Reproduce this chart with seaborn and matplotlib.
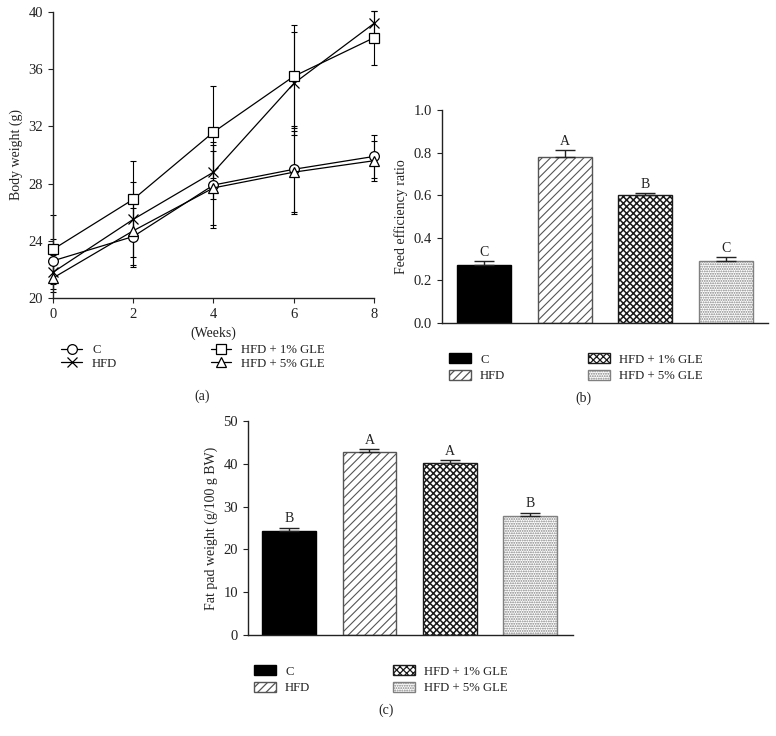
import matplotlib
matplotlib.use("Agg")
import matplotlib.pyplot as plt
import numpy as np
import pandas as pd
import seaborn as sns
from matplotlib.lines import Line2D
from matplotlib.patches import Patch

# ---- data -------------------------------------------------------------
groups = ["C", "HFD", "HFD + 1% GLE", "HFD + 5% GLE"]

weeks = [0, 2, 4, 6, 8]
bw_c = [22.6, 24.3, 27.9, 29.0, 29.9]
bw_hfd = [21.8, 25.5, 28.8, 35.0, 39.2]
bw_gle1 = [23.4, 26.9, 31.6, 35.5, 38.2]
bw_gle5 = [21.4, 24.7, 27.7, 28.8, 29.6]
bw_c_err = [1.5, 2.0, 3.0, 3.0, 1.5]
bw_hfd_err = [1.2, 2.6, 1.9, 3.6, 0.9]
bw_gle1_err = [2.4, 2.7, 3.2, 3.6, 1.9]
bw_gle5_err = [1.0, 2.5, 2.6, 2.9, 1.4]

fer_values = [0.27, 0.78, 0.60, 0.29]
fer_errors = [0.02, 0.03, 0.01, 0.02]
fer_letters = ["C", "A", "B", "C"]

fat_values = [24.4, 42.7, 40.3, 27.7]
fat_errors = [0.7, 0.8, 0.5, 0.9]
fat_letters = ["B", "A", "A", "B"]

# ---- style ------------------------------------------------------------
sns.set_style("ticks")
plt.rcParams["font.family"] = ["Liberation Serif", "DejaVu Serif"]
plt.rcParams.update({
    "font.size": 10,
    "axes.linewidth": 1.0,
    "xtick.direction": "out",
    "ytick.direction": "out",
    "xtick.major.size": 3.8,
    "ytick.major.size": 3.8,
    "xtick.labelsize": 10.5,
    "ytick.labelsize": 10.5,
    "xtick.color": "#222222",
    "ytick.color": "#222222",
    "text.color": "#222222",
    "axes.labelcolor": "#222222",
    "axes.edgecolor": "#222222",
    "hatch.linewidth": 0.9,
})

W, H = 776, 736
fig = plt.figure(figsize=(W / 100, H / 100), dpi=100)


def px_axes(left, top, right, bottom):
    return fig.add_axes([left / W, 1 - bottom / H, (right - left) / W, (bottom - top) / H])


# bar styles: facecolor, edgecolor (= hatch colour), hatch, hatch linewidth
bar_styles = [
    ("black", "black", "", 1.0),
    ("white", "#555555", "////", 0.8),
    ("white", "#1a1a1a", "xxxxx", 1.1),
    ("white", "#808080", ".......", 0.9),
]


def style_patch(patch, style):
    fc, ec, hatch, hlw = style
    patch.set_facecolor(fc)
    patch.set_edgecolor(ec)
    patch.set_hatch(hatch)
    patch.set_linewidth(1.0)
    if hasattr(patch, "set_hatch_linewidth"):
        patch.set_hatch_linewidth(hlw)


# ---- (a) body weight line plot -----------------------------------------
ax_a = px_axes(53, 12, 374, 298)
series = [
    ("C", bw_c, bw_c_err, "o"),
    ("HFD", bw_hfd, bw_hfd_err, "x"),
    ("HFD + 1% GLE", bw_gle1, bw_gle1_err, "s"),
    ("HFD + 5% GLE", bw_gle5, bw_gle5_err, "^"),
]
line_handles = []
for name, vals, errs, mk in series:
    ax_a.errorbar(weeks, vals, yerr=errs, fmt="none", ecolor="black",
                  elinewidth=0.8, capsize=2.5, capthick=0.8, clip_on=False, zorder=2)
    sns.lineplot(x=weeks, y=vals, ax=ax_a, color="black", linewidth=0.9,
                 marker=mk, markersize=7, markerfacecolor="white",
                 markeredgecolor="black", markeredgewidth=0.9, clip_on=False, zorder=3)
    line_handles.append(Line2D([], [], color="black", linewidth=0.9, marker=mk,
                               markersize=7, markerfacecolor="white",
                               markeredgecolor="black", markeredgewidth=0.9))
ax_a.set_xlim(0, 8)
ax_a.set_ylim(20, 40)
ax_a.set_xticks([0, 2, 4, 6, 8])
ax_a.set_yticks([20, 24, 28, 32, 36, 40])
ax_a.set_xlabel("(Weeks)", fontsize=10, labelpad=4)
ax_a.set_ylabel("Body weight (g)", fontsize=10, labelpad=4)
sns.despine(ax=ax_a)
fig.legend(line_handles, groups, ncol=2, loc="upper left",
           bbox_to_anchor=(55 / W, 1 - 338 / H), frameon=False, borderpad=0,
           handlelength=1.6, handletextpad=0.8, labelspacing=0.12,
           columnspacing=7.3, fontsize=9.2)
fig.text(202 / W, 1 - 396 / H, "(a)", ha="center", va="center", fontsize=10)


# ---- bar panels ---------------------------------------------------------
def bar_panel(ax, values, errors, letters, ylim, yticks, ylabel, letter_pad):
    df = pd.DataFrame({"group": groups, "value": values})
    sns.barplot(data=df, x="group", y="value", order=groups, width=0.67,
                errorbar=None, color="white", ax=ax, zorder=2)
    for patch, style in zip(ax.patches, bar_styles):
        style_patch(patch, style)
    ax.errorbar(np.arange(len(values)), values,
                yerr=[np.zeros(len(values)), errors], fmt="none", ecolor="#222222",
                elinewidth=1.0, capsize=7, capthick=1.0, zorder=3)
    for i, (v, e, lt) in enumerate(zip(values, errors, letters)):
        ax.text(i, v + e + letter_pad, lt, ha="center", va="bottom", fontsize=10)
    ax.set_ylim(*ylim)
    ax.set_yticks(yticks)
    ax.set_xticks([])
    ax.set_xlabel("")
    ax.set_ylabel(ylabel, fontsize=10, labelpad=4)
    sns.despine(ax=ax)


def bar_legend(x_px, y_px, colsp):
    handles = []
    for style in bar_styles:
        p = Patch()
        style_patch(p, style)
        handles.append(p)
    fig.legend(handles, groups, ncol=2, loc="upper left",
               bbox_to_anchor=(x_px / W, 1 - y_px / H), frameon=False, borderpad=0,
               handlelength=1.7, handleheight=0.8, handletextpad=0.7,
               labelspacing=0.32, columnspacing=colsp, fontsize=9.2)


# (b) feed efficiency ratio
ax_b = px_axes(442, 110, 768, 323)
bar_panel(ax_b, fer_values, fer_errors, fer_letters, (0, 1.0),
          [0.0, 0.2, 0.4, 0.6, 0.8, 1.0], "Feed efficiency ratio", 0.01)
ax_b.set_xlim(-0.52, 3.52)
ax_b.set_yticklabels(["0.0", "0.2", "0.4", "0.6", "0.8", "1.0"])
bar_legend(443, 347, 6.5)
fig.text(583 / W, 1 - 398 / H, "(b)", ha="center", va="center", fontsize=10)

# (c) fat pad weight
ax_c = px_axes(248, 421, 573, 635)
bar_panel(ax_c, fat_values, fat_errors, fat_letters, (0, 50),
          [0, 10, 20, 30, 40, 50], "Fat pad weight (g/100 g BW)", 0.5)
ax_c.set_xlim(-0.51, 3.53)
bar_legend(248, 659, 6.5)
fig.text(386 / W, 1 - 710 / H, "(c)", ha="center", va="center", fontsize=10)

fig.savefig("out.png", dpi=100, facecolor="white")
